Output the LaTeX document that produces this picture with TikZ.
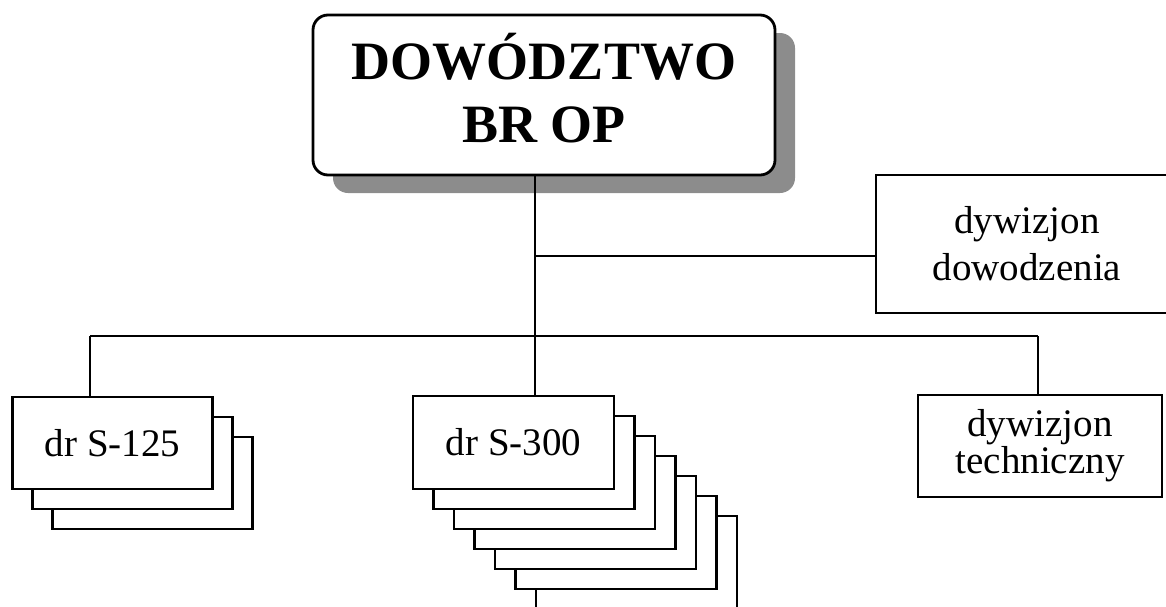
\documentclass[tikz,border=0pt]{standalone}
\usepackage{fontspec}
\setmainfont{Liberation Serif}
\usetikzlibrary{shadows}
\begin{document}
\begin{tikzpicture}[x=1pt,y=-1pt,line width=2.8pt,
  topbox/.style={draw,rounded corners=15pt,fill=white,minimum width=462pt,minimum height=160pt,
    inner sep=4pt,text depth=14pt,align=center,font=\fontsize{54}{63}\selectfont\bfseries,
    drop shadow={shadow xshift=20pt,shadow yshift=-18pt,fill=black!45,opacity=1}},
  unitbox/.style={draw,fill=white,minimum width=200pt,minimum height=92pt,inner sep=0pt,
    font=\fontsize{39}{47}\selectfont,align=center}]
\useasboundingbox (0,0) rectangle (1166,606);
\clip (0,0) rectangle (1166,606);
\node[topbox] (dow) at (544,95) {DOWÓDZTWO\\BR OP};
\node[unitbox,minimum width=292pt,minimum height=138pt,text width=282pt,xshift=0pt] (ddow) at (1022,244)
  {\hspace*{10pt}dywizjon\\\hspace*{10pt}dowodzenia};
\node[unitbox,minimum width=244pt,minimum height=102pt,font=\fontsize{39}{37}\selectfont] (tech) at (1040,446) {dywizjon\\techniczny};
\foreach \k in {2,1}
  \node[unitbox] (s125-\k) at (112.5+20*\k,443+20*\k) {};
\node[unitbox] (s125) at (112.5,443) {dr S-125};
\foreach \k in {6,...,1}
  \node[unitbox,minimum width=201pt,minimum height=93pt] (s300-\k) at (513.5+20.5*\k,442.5+20*\k) {};
\node[unitbox,minimum width=201pt,minimum height=93pt] (s300) at (513.5,442.5) {dr S-300};
\coordinate (bus) at (535,336);
\coordinate (branch) at (535,256);
\coordinate (b1) at (90,336);
\coordinate (b3) at (1038,336);
\draw (dow.south -| bus) -- (bus |- s300.north)
      (branch) -- (branch -| ddow.west)
      (b1) -- (b3)
      (b1) -- (b1 |- s125.north)
      (b3) -- (b3 |- tech.north);
\end{tikzpicture}
\end{document}
